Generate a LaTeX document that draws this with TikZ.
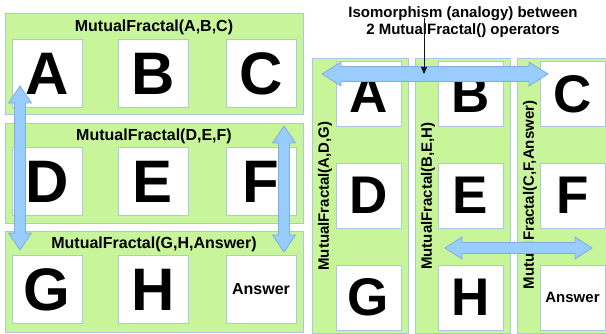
\documentclass[tikz,border=0pt]{standalone}
\usepackage{fontspec}
\setmainfont{Liberation Sans}
\usepackage{tikz}
\usepackage{xcolor}
\usetikzlibrary{arrows.meta,positioning,calc}
\definecolor{panelgreen}{HTML}{C8F59A}
\definecolor{panelline}{HTML}{A9C8E6}
\definecolor{arrowfill}{HTML}{99CCFF}
\definecolor{arrowline}{HTML}{7EAEE0}
\definecolor{ink}{HTML}{111111}
\tikzset{
  panel/.style={draw=panelline,fill=panelgreen,line width=0.8pt,inner sep=0pt},
  bigbox/.style={draw=panelline,fill=white,line width=0.8pt,inner sep=0pt,
                 minimum width=70pt,minimum height=68pt,
                 font=\fontsize{60}{60}\selectfont\bfseries},
  midbox/.style={draw=panelline,fill=white,line width=0.8pt,inner sep=0pt,
                 minimum width=65pt,minimum height=65pt,
                 font=\fontsize{53}{53}\selectfont\bfseries},
  rowtitle/.style={anchor=base,inner sep=0pt,font=\fontsize{16}{19}\selectfont\bfseries},
  coltitle/.style={rotate=90,inner sep=0pt,font=\fontsize{15}{18}\selectfont\bfseries},
  blockarrow/.style={draw=arrowline,fill=arrowfill,line width=0.8pt,line join=miter},
  thinarrow/.style={-{Triangle[length=7pt,width=6pt]},line width=0.6pt,color=ink}
}
% double headed block arrow: from, to, head length, head half width, shaft half width
\newcommand{\isoarrow}[5]{%
  \draw[blockarrow] (#1)
    -- ($(#1)!#3!(#2)!#4!90:(#2)$)
    -- ($(#1)!#3!(#2)!#5!90:(#2)$)
    -- ($(#2)!#3!(#1)!#5!-90:(#1)$)
    -- ($(#2)!#3!(#1)!#4!-90:(#1)$)
    -- (#2)
    -- ($(#2)!#3!(#1)!#4!90:(#1)$)
    -- ($(#2)!#3!(#1)!#5!90:(#1)$)
    -- ($(#1)!#3!(#2)!#5!-90:(#2)$)
    -- ($(#1)!#3!(#2)!#4!-90:(#2)$)
    -- cycle;}

\begin{document}
\begin{tikzpicture}[x=1pt,y=-1pt]
  \useasboundingbox (0,0) rectangle (606,334);
  % three rows
  \node[panel,anchor=north west,minimum width=298pt,minimum height=101pt] (rowabc) at (5,13) {};
  \node[panel,anchor=north west,minimum width=298pt,minimum height=100pt] (rowdef) at (5,123) {};
  \node[panel,anchor=north west,minimum width=298pt,minimum height=101pt] (rowgh) at (5,231) {};
  \node[rowtitle] (rowabctitle) at (154,32) {MutualFractal(A,B,C)};
  \node[rowtitle] (rowdeftitle) at (154,141) {MutualFractal(D,E,F)};
  \node[rowtitle] (rowghtitle) at (154,249) {MutualFractal(G,H,Answer)};
  \node[bigbox] (la) at (47,73.5) {A};
  \node[bigbox] (lb) at (153,73.5) {B};
  \node[bigbox] (lc) at (261,73.5) {C};
  \node[bigbox] (ld) at (47,181.5) {D};
  \node[bigbox] (le) at (153,181.5) {E};
  \node[bigbox] (lf) at (261,181.5) {F};
  \node[bigbox] (lg) at (47,289.5) {G};
  \node[bigbox] (lh) at (153,289.5) {H};
  \node[bigbox,font=\fontsize{16}{19}\selectfont\bfseries] (lans) at (261,289.5) {Answer};
  % three columns
  \node[panel,anchor=north west,minimum width=96pt,minimum height=275pt] (coladg) at (312,58) {};
  \node[panel,anchor=north west,minimum width=95pt,minimum height=275pt] (colbeh) at (415,58) {};
  \node[panel,anchor=north west,minimum width=96pt,minimum height=275pt] (colcf) at (517,58) {};
  \node[coltitle] (coladgtitle) at (325,196) {MutualFractal(A,D,G)};
  \node[coltitle] (colbehtitle) at (428,196) {MutualFractal(B,E,H)};
  \node[coltitle] (colcftitle) at (530,195) {MutualFractal(C,F,Answer)};
  \node[midbox] (ra) at (368.5,94) {A};
  \node[midbox] (rb) at (470.5,94) {B};
  \node[midbox] (rc) at (572.5,94) {C};
  \node[midbox] (rd) at (368.5,195.5) {D};
  \node[midbox] (re) at (470.5,195.5) {E};
  \node[midbox] (rf) at (572.5,195.5) {F};
  \node[midbox] (rg) at (368.5,297.5) {G};
  \node[midbox] (rh) at (470.5,297.5) {H};
  \node[midbox,font=\fontsize{15}{18}\selectfont\bfseries] (rans) at (572.5,297.5) {Answer};
  % block arrows
  \coordinate (adgtop) at (20,86);
  \coordinate (adgbot) at (20,250);
  \coordinate (cftop) at (284,126);
  \coordinate (cfbot) at (284,252);
  \coordinate (abcleft) at (322,74);
  \coordinate (abcright) at (548,74);
  \coordinate (ehleft) at (445,248);
  \coordinate (ehright) at (592,248);
  \isoarrow{adgtop}{adgbot}{17pt}{11.5pt}{5.5pt}
  \isoarrow{cftop}{cfbot}{17pt}{11.5pt}{5.5pt}
  \isoarrow{abcleft}{abcright}{19pt}{12pt}{7.5pt}
  \isoarrow{ehleft}{ehright}{17pt}{11pt}{5.5pt}
  % caption
  \node[align=center,inner sep=0pt,font=\fontsize{15}{17}\selectfont\bfseries] (isotext) at (463,22)
    {Isomorphism (analogy) between\\2 MutualFractal() operators};
  \coordinate (isotail) at (424,18);
  \draw[thinarrow] (isotail) -- (isotail |- abcleft);
\end{tikzpicture}
\end{document}
